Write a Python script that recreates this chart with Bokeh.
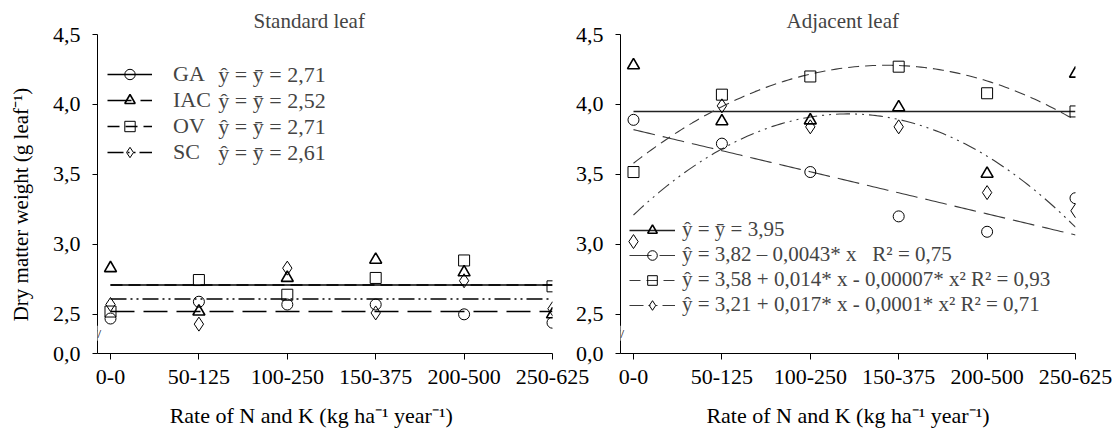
import numpy as np
from bokeh.plotting import figure
from bokeh.layouts import row
from bokeh.models import FixedTicker, Legend, LegendItem, Label, Range1d
from bokeh.embed import file_html
from bokeh.resources import INLINE

# ---------------- data ----------------
categories = ["0-0", "50-125", "100-250", "150-375", "200-500", "250-625"]
cultivars = ["GA", "IAC", "OV", "SC"]

# Standard leaf (observed)
std_GA = [2.47, 2.59, 2.57, 2.57, 2.50, 2.44]
std_IAC = [2.83, 2.52, 2.76, 2.89, 2.80, 2.50]
std_OV = [2.52, 2.745, 2.64, 2.76, 2.885, 2.70]
std_SC = [2.57, 2.43, 2.83, 2.51, 2.74, 2.54]
std_means = [2.71, 2.52, 2.71, 2.61]
std_eq = ["ŷ = ȳ = 2,71", "ŷ = ȳ = 2,52", "ŷ = ȳ = 2,71", "ŷ = ȳ = 2,61"]

# Adjacent leaf (observed)
adj_GA = [3.89, 3.72, 3.517, 3.20, 3.09, 3.33]
adj_IAC = [4.28, 3.88, 3.886, 3.98, 3.505, 4.22]
adj_OV = [3.517, 4.07, 4.20, 4.27, 4.08, 3.95]
adj_SC = [3.02, 3.99, 3.84, 3.84, 3.37, 3.24]
adj_IAC_mean = 3.95
adj_GA_coef = [3.82, -0.0043]
adj_OV_coef = [3.58, 0.014, -0.00007]
adj_SC_coef = [3.21, 0.017, -0.0001]
adj_labels = [
    "ŷ = ȳ = 3,95",
    "ŷ = 3,82 – 0,0043* x   R² = 0,75",
    "ŷ = 3,58 + 0,014* x - 0,00007* x² R² = 0,93",
    "ŷ = 3,21 + 0,017* x - 0,0001* x² R² = 0,71",
]
eq_x_per_category = 35.0

y_tick_values = [0.0, 2.5, 3.0, 3.5, 4.0, 4.5]
y_tick_labels = ["0,0", "2,5", "3,0", "3,5", "4,0", "4,5"]

x_title = "Rate of N and K (kg ha⁻¹ year⁻¹)"
y_title = "Dry matter weight (g leaf⁻¹)"

# ---------------- styling / layout ----------------
FONT = "Liberation Serif"
FS = "22px"
NB = "\u00a0"
Y_ZERO_POS = 2.22      # display position of the 0,0 tick (broken axis)
Y_TOP = 4.5
X_START = -0.147
FRAME_W, FRAME_H = 455, 319
scale_px = FRAME_H / (Y_TOP - Y_ZERO_POS)


def disp(v):
    return v if v >= 2.3 else Y_ZERO_POS


xs = list(range(len(categories)))


def make_fig(title, left, right, ylabel, xlabel):
    p = figure(frame_width=FRAME_W, frame_height=FRAME_H,
               x_range=Range1d(X_START, 5), y_range=Range1d(Y_ZERO_POS, Y_TOP),
               output_backend="svg", toolbar_location=None,
               min_border_left=left, min_border_right=right,
               min_border_top=34, min_border_bottom=82)
    p.title.text = title
    p.title.text_font = FONT
    p.title.text_font_size = "21px"
    p.title.text_font_style = "normal"
    p.title.align = "center"
    p.title.standoff = 4
    p.xgrid.visible = False
    p.ygrid.visible = False
    p.outline_line_color = None
    xa = p.xaxis[0]
    xa.ticker = FixedTicker(ticks=xs)
    xa.major_label_overrides = {i: c for i, c in enumerate(categories)}
    xa.major_tick_out = 6
    xa.major_tick_in = 0
    xa.minor_tick_line_color = None
    xa.major_label_standoff = 10
    xa.axis_label = xlabel
    xa.axis_label_standoff = 16
    ya = p.yaxis[0]
    pos = [disp(v) for v in y_tick_values]
    ya.ticker = FixedTicker(ticks=pos)
    ya.major_label_overrides = {pv: lab for pv, lab in zip(pos, y_tick_labels)}
    ya.major_tick_out = 5
    ya.major_tick_in = 0
    ya.minor_tick_line_color = None
    ya.major_label_standoff = 12
    if ylabel:
        ya.axis_label = ylabel
        ya.axis_label_standoff = 17
    for ax in (xa, ya):
        ax.axis_line_color = "black"
        ax.major_tick_line_color = "black"
        ax.major_label_text_font = FONT
        ax.major_label_text_font_size = FS
        ax.major_label_text_color = "black"
        ax.axis_label_text_font = FONT
        ax.axis_label_text_font_size = FS
        ax.axis_label_text_font_style = "normal"
        ax.axis_label_text_color = "black"
    ya.axis_label_text_font_size = "21px"
    # axis break mark
    p.add_layout(Label(x=X_START, y=2.365, text="//", text_font=FONT, text_font_size="13px",
                       text_align="center", text_baseline="middle",
                       background_fill_color="white", text_color="black"))
    return p


def markers(p, ys, kind):
    style = dict(size=11, line_color="black", fill_alpha=0, line_width=1)
    if kind == "triangle":
        style.update(size=12, line_width=1.6)
    elif kind == "diamond":
        style.update(size=14)
    return p.scatter(xs, [disp(v) for v in ys], marker=kind, **style)


kinds = ["circle", "triangle", "square", "diamond"]

# ---------------- Standard leaf ----------------
p1 = make_fig("Standard leaf" + NB * 6, 97, 40, y_title + NB * 4, x_title + NB * 5)
std_vals = [std_GA, std_IAC, std_OV, std_SC]
std_dash = ["solid", "24 9", "12 6", "16 4 2 4 2 4"]
items1 = []
for name, vals, mean, kind, dash in zip(cultivars, std_vals, std_means, kinds, std_dash):
    ln = p1.line([xs[0], xs[-1]], [mean, mean], line_color="black", line_width=1.6, line_dash=dash)
    sc = markers(p1, vals, kind)
    items1.append(LegendItem(label=name, renderers=[ln, sc]))

leg1_bottom, leg1_row = 188, 26
leg1 = Legend(items=items1, location=(10, leg1_bottom), glyph_width=45, glyph_height=leg1_row,
              label_height=leg1_row, spacing=0, label_standoff=21,
              padding=0, margin=0, border_line_alpha=0, background_fill_alpha=0,
              label_text_font=FONT, label_text_font_size=FS)
p1.add_layout(leg1, "center")
leg1_top = leg1_bottom + leg1_row * len(std_eq)
for i, txt in enumerate(std_eq):
    px_above = leg1_top - leg1_row / 2 - leg1_row * i
    p1.add_layout(Label(x=1.22, y=Y_ZERO_POS + px_above / scale_px, text=txt,
                        text_font=FONT, text_font_size=FS, text_baseline="middle"))

# ---------------- Adjacent leaf ----------------
p2 = make_fig("Adjacent leaf" + NB * 2, 46, 40, None, x_title)
p2.margin = (0, 0, 0, -20)
p2.border_fill_alpha = 0
p2.background_fill_alpha = 0

xf = np.linspace(0, 5, 121)
xe = xf * eq_x_per_category
curve_GA = adj_GA_coef[0] + adj_GA_coef[1] * xe
curve_OV = adj_OV_coef[0] + adj_OV_coef[1] * xe + adj_OV_coef[2] * xe ** 2
curve_SC = adj_SC_coef[0] + adj_SC_coef[1] * xe + adj_SC_coef[2] * xe ** 2
CURVE_COL = "#3a3a3a"

l_iac = p2.line([xs[0], xs[-1]], [adj_IAC_mean, adj_IAC_mean], line_color="#222222", line_width=1.6)
l_ga = p2.line(xf, curve_GA, line_color=CURVE_COL, line_width=1.1, line_dash="22 8")
l_ov = p2.line(xf, curve_OV, line_color=CURVE_COL, line_width=1.1, line_dash="11 6")
l_sc = p2.line(xf, curve_SC, line_color=CURVE_COL, line_width=1.1, line_dash="14 5 2 5 2 5")

s_ga = markers(p2, adj_GA, "circle")
s_iac = markers(p2, adj_IAC, "triangle")
s_ov = markers(p2, adj_OV, "square")
s_sc = markers(p2, adj_SC, "diamond")

items2 = [
    LegendItem(label=adj_labels[0], renderers=[l_iac, s_iac]),
    LegendItem(label=adj_labels[1], renderers=[l_ga, s_ga]),
    LegendItem(label=adj_labels[2], renderers=[l_ov, s_ov]),
    LegendItem(label=adj_labels[3], renderers=[l_sc, s_sc]),
]
leg2_row = 24
leg2 = Legend(items=items2, location=(9, 36), glyph_width=46, glyph_height=leg2_row,
              label_height=leg2_row, spacing=0, label_standoff=7,
              padding=0, margin=0, border_line_alpha=0, background_fill_alpha=0,
              label_text_font=FONT, label_text_font_size="21px")
p2.add_layout(leg2, "center")

layout = row(p1, p2)
open("out.html", "w").write(file_html(layout, INLINE))
